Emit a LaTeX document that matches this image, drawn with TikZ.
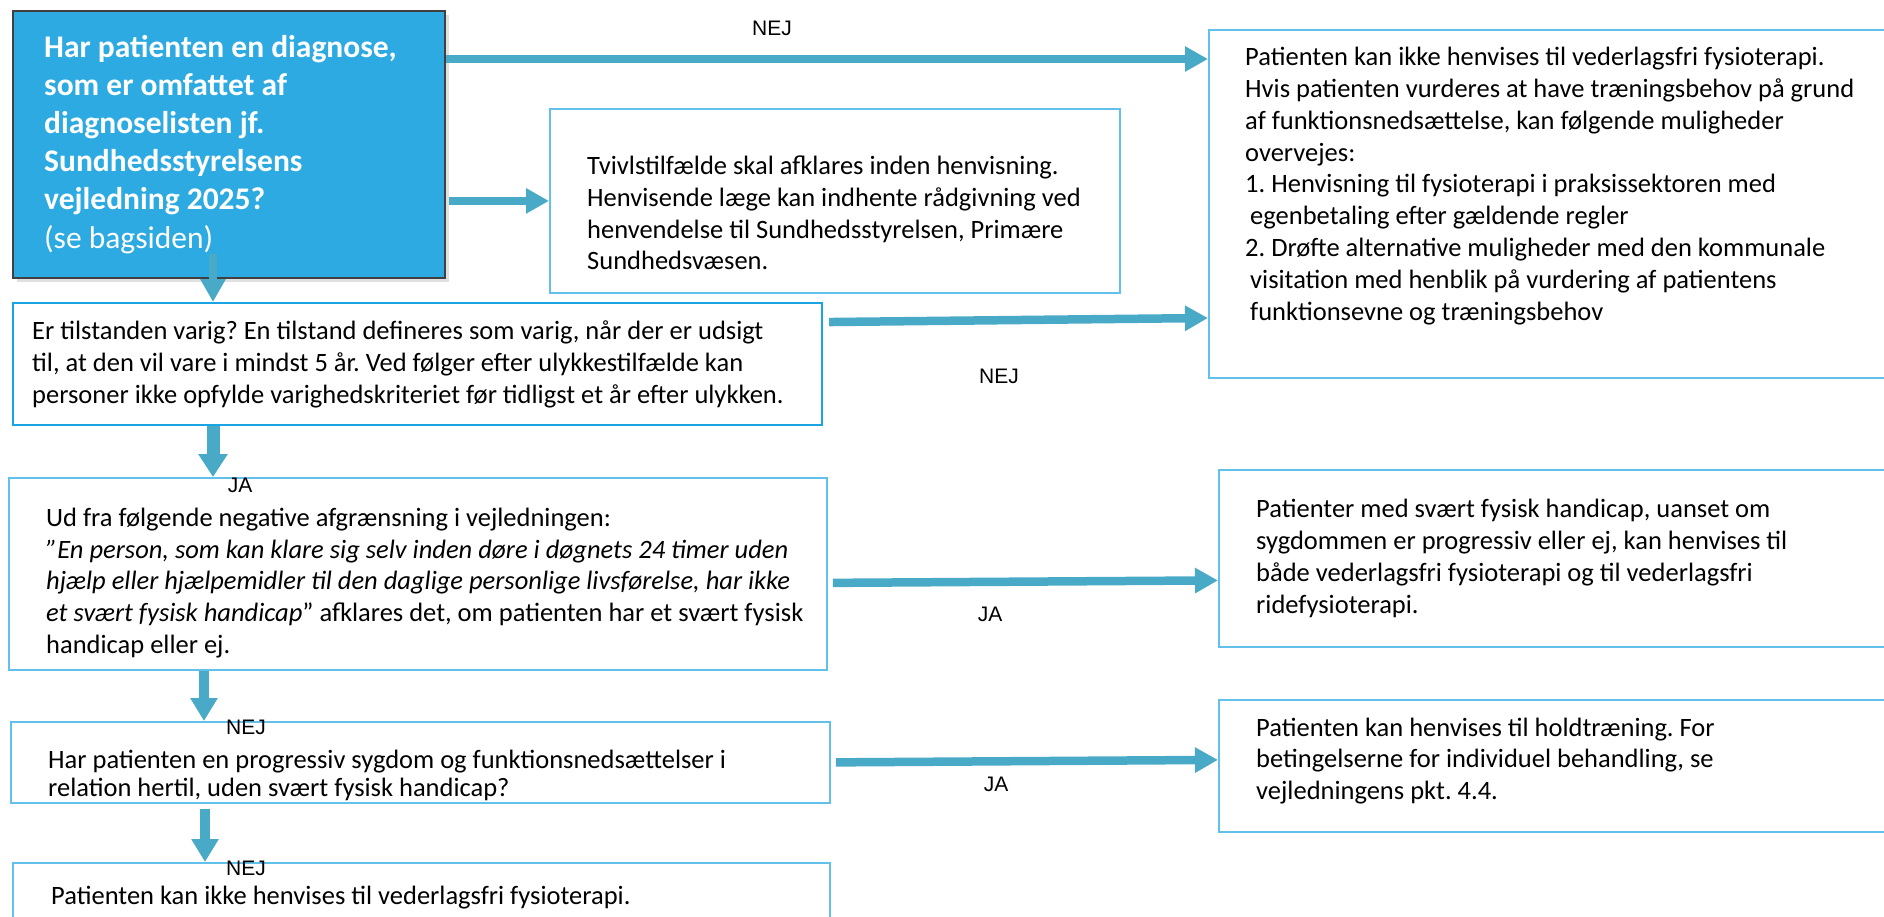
\documentclass[tikz,border=0pt]{standalone}
\usepackage{fontspec}
\setmainfont{Carlito}
\newfontfamily\answerfont{Liberation Sans}
\usetikzlibrary{arrows.meta,shadows}
\frenchspacing
\definecolor{flowblue}{RGB}{72,170,198}
\definecolor{frameblue}{RGB}{98,192,234}
\definecolor{framedark}{RGB}{25,165,228}
\definecolor{questionblue}{RGB}{44,170,225}
\tikzset{
  box/.style={draw=frameblue,line width=1.8pt,fill=white,anchor=north west,inner sep=0pt},
  boxtext/.style={anchor=west,align=left,inner sep=0pt,font=\fontsize{26.5pt}{31.8pt}\selectfont},
  flow/.style={draw=flowblue,line width=8.5pt,-{Triangle[length=23pt,width=24pt]}},
  answer/.style={inner sep=0pt,font=\answerfont\fontsize{21pt}{24pt}\selectfont},
}
\begin{document}
\begin{tikzpicture}[x=1pt,y=-1pt]
    \useasboundingbox (0,0) rectangle (1884,916);
    \node[box,draw=black!75,line width=1.5pt,fill=questionblue,minimum width=432pt,minimum height=267pt,
          drop shadow={shadow xshift=4pt,shadow yshift=-4pt,fill=black!12,opacity=1}] (q1) at (12,10) {};
    \node[box,minimum width=570pt,minimum height=184pt] (doubt) at (549,108) {};
    \node[box,minimum width=700pt,minimum height=348pt] (nejbox) at (1208,29) {};
    \node[box,draw=framedark,line width=2.2pt,minimum width=809pt,minimum height=122pt] (varig) at (12,302) {};
    \node[box,minimum width=690pt,minimum height=177pt] (ja1box) at (1218,469) {};
    \node[box,minimum width=818pt,minimum height=192pt] (udfra) at (8,477) {};
    \node[box,minimum width=690pt,minimum height=132pt] (ja2box) at (1218,699) {};
    \node[box,minimum width=819pt,minimum height=81pt] (prog) at (10,721) {};
    \node[box,minimum width=817pt,minimum height=70pt] (last) at (12,862) {};

    \node[boxtext,text=white,font=\fontsize{31.5pt}{38.2pt}\selectfont\bfseries] (q1text) at ([xshift=32pt]q1.west)
        {Har patienten en diagnose,\\som er omfattet af\\diagnoselisten jf.\\Sundhedsstyrelsens\\vejledning 2025?\\{\mdseries (se bagsiden)}};
    \node[boxtext] (doubttext) at ([xshift=38pt,yshift=-12pt]doubt.west)
        {Tvivlstilfælde skal afklares inden henvisning.\\Henvisende læge kan indhente rådgivning ved\\henvendelse til Sundhedsstyrelsen, Primære\\Sundhedsvæsen.};
    \node[boxtext] (nejtext) at ([xshift=37pt,yshift=18pt]nejbox.west)
        {Patienten kan ikke henvises til vederlagsfri fysioterapi.\\Hvis patienten vurderes at have træningsbehov på grund\\af funktionsnedsættelse, kan følgende muligheder\\overvejes:\\1. Henvisning til fysioterapi i praksissektoren med\\\hspace*{5pt}egenbetaling efter gældende regler\\2. Drøfte alternative muligheder med den kommunale\\\hspace*{5pt}visitation med henblik på vurdering af patientens\\\hspace*{5pt}funktionsevne og træningsbehov};
    \node[boxtext] (varigtext) at ([xshift=20pt]varig.west)
        {Er tilstanden varig? En tilstand defineres som varig, når der er udsigt\\til, at den vil vare i mindst 5 år. Ved følger efter ulykkestilfælde kan\\personer ikke opfylde varighedskriteriet før tidligst et år efter ulykken.};
    \node[boxtext] (ja1text) at ([xshift=38pt]ja1box.west)
        {Patienter med svært fysisk handicap, uanset om\\sygdommen er progressiv eller ej, kan henvises til\\både vederlagsfri fysioterapi og til vederlagsfri\\ridefysioterapi.};
    \node[boxtext] (udfratext) at ([xshift=38pt,yshift=-9pt]udfra.west)
        {Ud fra følgende negative afgrænsning i vejledningen:\\\textit{”En person, som kan klare sig selv inden døre i døgnets 24 timer uden}\\\textit{hjælp eller hjælpemidler til den daglige personlige livsførelse, har ikke}\\\textit{et svært fysisk handicap}” afklares det, om patienten har et svært fysisk\\handicap eller ej.};
    \node[boxtext] (ja2text) at ([xshift=38pt,yshift=5pt]ja2box.west)
        {Patienten kan henvises til holdtræning. For\\betingelserne for individuel behandling, se\\vejledningens pkt. 4.4.};
    \node[boxtext,font=\fontsize{26.5pt}{27.5pt}\selectfont] (progtext) at ([xshift=38pt,yshift=-13pt]prog.west)
        {Har patienten en progressiv sygdom og funktionsnedsættelser i\\relation hertil, uden svært fysisk handicap?};
    \node[boxtext] (lasttext) at ([xshift=39pt]last.west)
        {Patienten kan ikke henvises til vederlagsfri fysioterapi.};

    \node[answer] (nejtop) at (772,28) {NEJ};
    \node[answer] (nejvarig) at (999,376) {NEJ};
    \node[answer] (javarig) at (240,485) {JA};
    \node[answer] (jaudfra) at (990,614) {JA};
    \node[answer] (nejudfra) at (246,727) {NEJ};
    \node[answer] (japrog) at (996,784) {JA};
    \node[answer] (nejprog) at (246,868) {NEJ};

    \draw[flow] ([yshift=-49pt]q1.north east) -- ([yshift=-30pt]nejbox.north west);
    \draw[flow,shorten <=3pt] (q1.east |- doubt.west) -- (doubt.west);
    \draw[flow,shorten <=6pt] ([yshift=42pt]varig.east) -- ([yshift=-289pt]nejbox.north west);
    \draw[flow,shorten <=5pt] ([yshift=-9pt]udfra.east) -- ([yshift=-22pt]ja1box.west);
    \draw[flow,shorten <=5pt] (prog.east) -- ([yshift=6pt]ja2box.west);
    \draw[flow,line width=8pt] ([xshift=201pt,yshift=25pt]q1.south west) -- ([xshift=201pt]varig.north west);
    \draw[flow,line width=13pt,-{Triangle[length=23pt,width=28pt]}] ([xshift=201pt]varig.south west) -- ([xshift=205pt]udfra.north west);
    \draw[flow,line width=10pt,-{Triangle[length=23pt,width=26pt]}] ([xshift=196pt]udfra.south west) -- ([xshift=194pt]prog.north west);
    \draw[flow,line width=10pt,-{Triangle[length=23pt,width=26pt]},shorten <=5pt] ([xshift=195pt]prog.south west) -- ([xshift=193pt]last.north west);
\end{tikzpicture}
\end{document}
